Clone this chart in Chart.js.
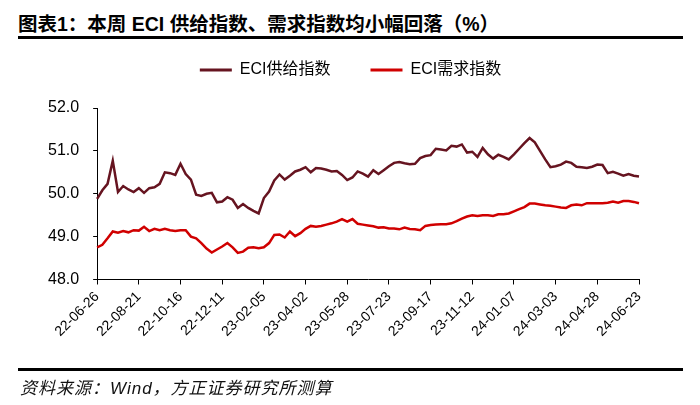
<!DOCTYPE html>
<html>
<head>
<meta charset="utf-8">
<script src="https://cdn.jsdelivr.net/npm/chart.js@4.4.1/dist/chart.umd.min.js"></script>
<style>
  body { margin: 0; background: #fff; }
  #wrap { position: relative; width: 700px; height: 405px; overflow: hidden; }
  #title { position: absolute; left: 18px; top: 8px; font: bold 19.5px "Liberation Sans", "Noto Sans CJK SC", sans-serif; color: #000; white-space: nowrap; }
  .rule { position: absolute; left: 18px; width: 665px; height: 3px; background: #000; }
  #source { position: absolute; left: 20px; top: 374px; font: italic 17px "Liberation Sans", "Noto Sans CJK SC", sans-serif; letter-spacing: 1px; color: #111; white-space: nowrap; }
  canvas { position: absolute; left: 0; top: 0; }
</style>
</head>
<body>
<div id="wrap">
  <div id="title">图表1：本周 ECI 供给指数、需求指数均小幅回落（%）</div>
  <div class="rule" style="top:36px"></div>
  <canvas id="chart" width="700" height="405"></canvas>
  <div class="rule" style="top:368px"></div>
  <div id="source">资料来源：Wind，方正证券研究所测算</div>
</div>
<script>
// weekly dates, 22-06-26 .. 24-06-23
const startDate = Date.UTC(2022, 5, 26);
const weeks = 105;
const dates = [];
for (let i = 0; i < weeks; i++) {
    const d = new Date(startDate + i * 7 * 86400000);
    const yy = String(d.getUTCFullYear()).slice(2);
    const mm = String(d.getUTCMonth() + 1).padStart(2, "0");
    const dd = String(d.getUTCDate()).padStart(2, "0");
    dates.push(yy + "-" + mm + "-" + dd);
}

const seriesNames = ["ECI供给指数", "ECI需求指数"];

const supply = [
    49.88, 50.08, 50.23, 50.77, 50.04, 50.18, 50.10, 50.04, 50.13, 50.02,
    50.13, 50.15, 50.23, 50.50, 50.48, 50.44, 50.70, 50.46, 50.33, 49.98,
    49.95, 50.00, 50.02, 49.80, 49.82, 49.92, 49.86, 49.67, 49.76, 49.67,
    49.60, 49.54, 49.90, 50.05, 50.31, 50.45, 50.33, 50.42, 50.52, 50.56,
    50.62, 50.50, 50.60, 50.59, 50.56, 50.52, 50.53, 50.44, 50.32, 50.38,
    50.52, 50.47, 50.40, 50.55, 50.46, 50.55, 50.64, 50.72, 50.74, 50.71,
    50.69, 50.70, 50.83, 50.88, 50.90, 51.05, 51.03, 51.01, 51.12, 51.10,
    51.15, 50.96, 50.98, 50.86, 51.07, 50.92, 50.82, 50.91, 50.86, 50.80,
    50.92, 51.05, 51.18, 51.30, 51.20, 51.00, 50.80, 50.62, 50.64, 50.68,
    50.75, 50.72, 50.63, 50.62, 50.60, 50.63, 50.68, 50.67, 50.48, 50.51,
    50.47, 50.42, 50.46, 50.42, 50.40
];

const demand = [
    48.75, 48.81, 48.96, 49.12, 49.09, 49.13, 49.10, 49.15, 49.14, 49.23,
    49.13, 49.18, 49.15, 49.18, 49.15, 49.13, 49.15, 49.15, 49.00, 48.96,
    48.85, 48.72, 48.63, 48.70, 48.77, 48.85, 48.75, 48.62, 48.65, 48.74,
    48.75, 48.73, 48.75, 48.85, 49.04, 49.05, 48.98, 49.12, 49.01, 49.08,
    49.18, 49.25, 49.23, 49.25, 49.28, 49.31, 49.35, 49.41, 49.35, 49.41,
    49.30, 49.28, 49.26, 49.24, 49.21, 49.22, 49.19, 49.19, 49.17, 49.21,
    49.18, 49.17, 49.15, 49.25, 49.27, 49.28, 49.29, 49.29, 49.31, 49.36,
    49.42, 49.47, 49.50, 49.48, 49.50, 49.50, 49.48, 49.52, 49.52, 49.54,
    49.59, 49.64, 49.69, 49.77, 49.77, 49.75, 49.73, 49.72, 49.70, 49.68,
    49.67, 49.73, 49.75, 49.73, 49.78, 49.78, 49.78, 49.78, 49.79, 49.82,
    49.79, 49.83, 49.83, 49.81, 49.78
];

const yTicks = [48.0, 49.0, 50.0, 51.0, 52.0];
const labelEvery = 8;

const fontFamily = "'Liberation Sans', 'Noto Sans CJK SC', sans-serif";

// extra gap under the legend, and nudge it a bit to the right
const legendTweak = {
    id: "legendTweak",
    beforeInit(chart) {
        const fit = chart.legend.fit;
        chart.legend.fit = function () {
            fit.bind(chart.legend)();
            this.height += 20;
        };
    },
    afterLayout(chart) {
        chart.legend.left += 14;
        chart.legend.right += 14;
    }
};

new Chart(document.getElementById("chart"), {
    type: "line",
    data: {
        labels: dates,
        datasets: [{
            label: seriesNames[0],
            data: supply,
            borderColor: "#661420",
            backgroundColor: "#661420",
            borderWidth: 2.5,
            pointRadius: 0,
            tension: 0
        }, {
            label: seriesNames[1],
            data: demand,
            borderColor: "#d00000",
            backgroundColor: "#d00000",
            borderWidth: 2.5,
            pointRadius: 0,
            tension: 0
        }]
    },
    options: {
        responsive: false,
        animation: false,
        devicePixelRatio: 1,
        layout: { padding: { left: 34, right: 61, top: 22, bottom: 61 } },
        plugins: {
            legend: {
                position: "top",
                labels: {
                    font: { family: fontFamily, size: 16 },
                    color: "#000",
                    boxWidth: 32,
                    boxHeight: 3,
                    padding: 40,
                    generateLabels(chart) {
                        return chart.data.datasets.map((ds, i) => ({
                            text: ds.label,
                            fillStyle: ds.borderColor,
                            strokeStyle: ds.borderColor,
                            lineWidth: 0,
                            fontColor: "#000",
                            datasetIndex: i
                        }));
                    }
                }
            },
            tooltip: { enabled: false }
        },
        scales: {
            x: {
                offset: false,
                grid: { display: true, drawOnChartArea: false, drawTicks: true, tickLength: 5, color: "#000" },
                border: { display: true, color: "#000", width: 1 },
                ticks: {
                    autoSkip: false,
                    maxRotation: 45,
                    minRotation: 45,
                    color: "#000",
                    font: { family: fontFamily, size: 14 },
                    padding: 4,
                    callback: function (val, idx) {
                        return idx % labelEvery === 0 ? this.getLabelForValue(val) : null;
                    }
                }
            },
            y: {
                min: yTicks[0],
                max: yTicks[yTicks.length - 1],
                afterBuildTicks(axis) {
                    axis.ticks = yTicks.map(v => ({ value: v }));
                },
                grid: { display: true, drawOnChartArea: false, drawTicks: true, tickLength: 4, color: "#000" },
                border: { display: true, color: "#000", width: 1 },
                ticks: {
                    color: "#000",
                    font: { family: fontFamily, size: 16 },
                    padding: 14,
                    callback: v => v.toFixed(1)
                }
            }
        }
    },
    plugins: [legendTweak]
});
</script>
</body>
</html>
